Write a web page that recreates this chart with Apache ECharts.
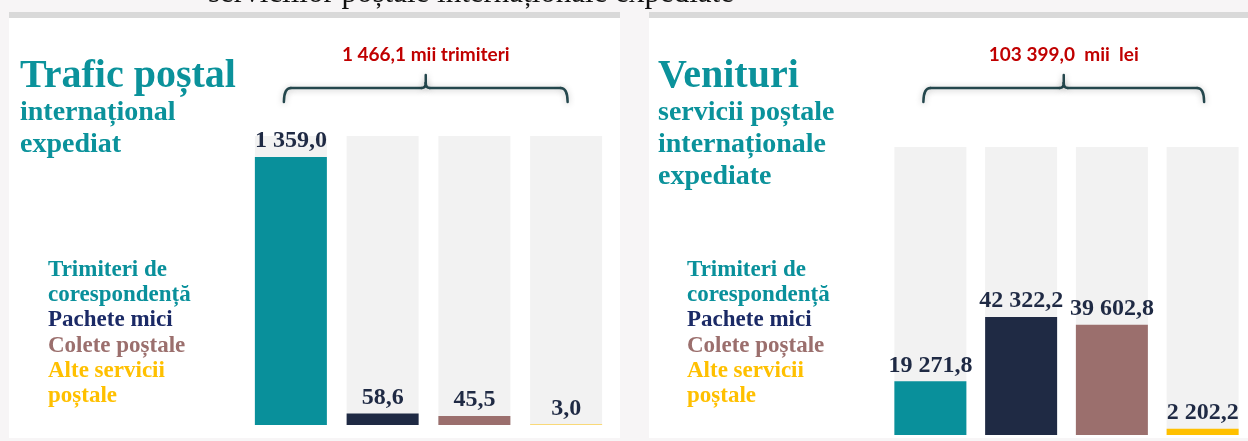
<!DOCTYPE html>
<html>
<head>
<meta charset="utf-8">
<script src="https://cdn.jsdelivr.net/npm/echarts@6/dist/echarts.min.js"></script>
<style>
html,body{margin:0;padding:0;background:#f7f5f6;}
#chart{width:1248px;height:441px;}
</style>
</head>
<body>
<div id="chart"></div>
<script>
// categorii si valori
var categories = ['Trimiteri de corespondență', 'Pachete mici', 'Colete poștale', 'Alte servicii poștale'];
var legendLines = [['Trimiteri de', 'corespondență'], ['Pachete mici'], ['Colete poștale'], ['Alte servicii', 'poștale']];
var traficValues = [1359.0, 58.6, 45.5, 3.0];       // mii trimiteri
var venituriValues = [19271.8, 42322.2, 39602.8, 2202.2]; // mii lei

var barColors = ['#09909b', '#1f2a44', '#9b6f6d', '#ffc000'];
var legendColors = ['#09909b', '#1b2a66', '#9b6f6d', '#ffc000'];
var teal = '#0b929b';
var serif = '"Liberation Serif", "DejaVu Serif", serif';

function fmt(v) {
	var s = v.toFixed(1).split('.');
	return s[0].replace(/\B(?=(\d{3})+(?!\d))/g, ' ') + ',' + s[1];
}
function sum(arr) {
	var t = 0;
	for (var i = 0; i < arr.length; i++) t += arr[i];
	return Math.round(t * 10) / 10;
}
var traficTotal = sum(traficValues);
var venituriTotal = sum(venituriValues);

function txt(x, y, text, font, fill, align) {
	return {
		type: 'text', x: x, y: y, z: 5,
		style: {
			text: text, font: font, fill: fill,
			align: align || 'left', textAlign: align || 'left',
			verticalAlign: 'middle', textVerticalAlign: 'middle'
		}
	};
}

var graphics = [
	{ type: 'rect', z: -10, shape: { x: 9, y: 12, width: 611, height: 426 }, style: { fill: '#ffffff' } },
	{ type: 'rect', z: -9, shape: { x: 9, y: 12, width: 611, height: 6 }, style: { fill: '#d9d9d9' } },
	{ type: 'rect', z: -10, shape: { x: 649, y: 12, width: 610, height: 426 }, style: { fill: '#ffffff' } },
	{ type: 'rect', z: -9, shape: { x: 649, y: 12, width: 610, height: 6 }, style: { fill: '#d9d9d9' } },
	txt(471, -6, 'serviciilor poștale internaționale expediate', '31px ' + serif, '#111111', 'center'),
	txt(20, 77, 'Trafic poștal', 'bold 40px ' + serif, teal),
	txt(20, 113, 'internațional', 'bold 28px ' + serif, teal),
	txt(20, 145, 'expediat', 'bold 28px ' + serif, teal),
	txt(658, 77, 'Venituri', 'bold 40px ' + serif, teal),
	txt(658, 113, 'servicii poștale', 'bold 28px ' + serif, teal),
	txt(658, 145, 'internaționale', 'bold 28px ' + serif, teal),
	txt(658, 177, 'expediate', 'bold 28px ' + serif, teal)
];

// legenda text (ambele panouri)
[48, 687].forEach(function (lx) {
	var y = 270;
	legendLines.forEach(function (lines, i) {
		lines.forEach(function (line) {
			graphics.push(txt(lx, y, line, 'bold 23px ' + serif, legendColors[i]));
			y += 25.2;
		});
	});
});

function barSeries(idx, values) {
	return {
		type: 'bar',
		xAxisIndex: idx,
		yAxisIndex: idx,
		data: values,
		barWidth: 72,
		showBackground: true,
		backgroundStyle: { color: '#f2f2f2' },
		itemStyle: {
			color: function (p) { return barColors[p.dataIndex]; }
		},
		label: {
			show: true,
			position: 'top',
			distance: 4,
			fontFamily: serif,
			fontWeight: 'bold',
			fontSize: 24,
			color: '#1f2a44',
			formatter: function (p) { return fmt(p.value); }
		},
		silent: true
	};
}

var option = {
	animation: false,
	grid: [
		{ left: 245, top: 136, width: 367, height: 289 },
		{ left: 885, top: 147, width: 367, height: 288 }
	],
	xAxis: [
		{ type: 'category', gridIndex: 0, data: categories, show: false },
		{ type: 'category', gridIndex: 1, data: categories, show: false }
	],
	yAxis: [
		{ type: 'value', gridIndex: 0, min: 0, max: traficTotal, show: false },
		{ type: 'value', gridIndex: 1, min: 0, max: venituriTotal, show: false }
	],
	series: [barSeries(0, traficValues), barSeries(1, venituriValues)],
	graphic: graphics
};

var chart = echarts.init(document.getElementById('chart'), null, { renderer: 'canvas' });
chart.setOption(option);

// acolade deasupra barelor + total
function brace(idx, label) {
	var x0 = chart.convertToPixel({ xAxisIndex: idx }, categories[0]) - 7;
	var x1 = chart.convertToPixel({ xAxisIndex: idx }, categories[categories.length - 1]) + 1.5;
	var xm = (x0 + x1) / 2;
	var yl = 88, ye = 102, yt = 75, r = 7;
	function st() {
		return { fill: null, stroke: '#24474d', lineWidth: 2.5, lineCap: 'round', shadowBlur: 6, shadowColor: 'rgba(0,0,0,0.25)', shadowOffsetY: 1 };
	}
	function curve(ax, ay, cx, cy, bx, by) {
		return { type: 'bezierCurve', shape: { x1: ax, y1: ay, cpx1: cx, cpy1: cy, x2: bx, y2: by }, style: st() };
	}
	function seg(ax, ay, bx, by) {
		return { type: 'line', shape: { x1: ax, y1: ay, x2: bx, y2: by }, style: st() };
	}
	return [
		{
			type: 'group', z: 4,
			children: [
				curve(x0, ye, x0, yl, x0 + r, yl),
				seg(x0 + r, yl, xm - 4, yl),
				curve(xm - 4, yl, xm, yl, xm, yl - 5),
				seg(xm, yl - 5, xm, yt),
				curve(xm, yl - 5, xm, yl, xm + 4, yl),
				seg(xm + 4, yl, x1 - r, yl),
				curve(x1 - r, yl, x1, yl, x1, ye)
			]
		},
		txt(xm, 55, label, 'bold 19px Lato, "Open Sans", sans-serif', '#c00000', 'center')
	];
}

option.graphic = graphics.concat(brace(0, fmt(traficTotal) + ' mii trimiteri'), brace(1, fmt(venituriTotal) + '  mii  lei'));
chart.setOption(option, true);
</script>
</body>
</html>
